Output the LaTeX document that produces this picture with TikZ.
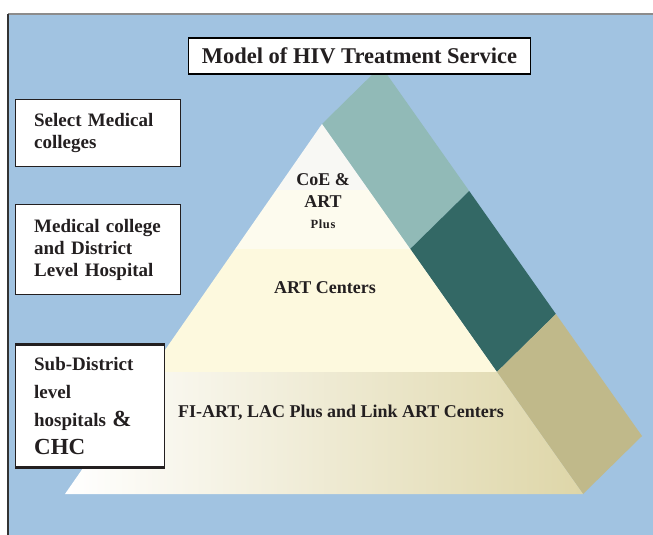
\documentclass[tikz,border=0pt]{standalone}
\usepackage{fontspec}
\setmainfont{Liberation Serif}
\usetikzlibrary{calc}
\definecolor{panelblue}{RGB}{161,195,225}
\definecolor{sideteal}{RGB}{145,186,183}
\definecolor{sidedark}{RGB}{51,104,101}
\definecolor{sidetan}{RGB}{192,185,138}
\definecolor{coetop}{RGB}{248,248,244}
\definecolor{coebot}{RGB}{253,251,238}
\definecolor{artcream}{RGB}{253,249,222}
\definecolor{linktan}{RGB}{222,214,168}
\definecolor{inkgray}{RGB}{35,31,32}
\tikzset{
	levelbox/.style={draw=inkgray, line width=1.3pt, fill=white, anchor=north west, align=left, inner sep=0pt, text=inkgray, font=\bfseries\fontsize{19}{22.5}\selectfont},
	pyrtext/.style={text=inkgray, inner sep=0pt, anchor=base, font=\bfseries\fontsize{18}{22}\selectfont}
}

\begin{document}
\begin{tikzpicture}[x=1pt,y=-1pt]
			%%%%% START %%%%%
			
			\useasboundingbox[fill=white] (0,0) rectangle (653,535);
			\fill[panelblue] (8,14) rectangle (653,535);
			\draw[line width=1.5pt, color=black!45] (8,14) -- (653,14);
			\draw[line width=1.5pt, color=black!80] (8,14) -- (8,535);
			
			\coordinate (apex) at (322,124);
			\coordinate (bl) at (65,494);
			\coordinate (br) at (583,494);
			\coordinate (l0) at (276.2,190);
			\coordinate (r0) at (368.6,190);
			\coordinate (l1) at (235.2,249);
			\coordinate (r1) at (410.2,249);
			\coordinate (l2) at (149.7,372);
			\coordinate (r2) at (496.9,372);
			
			% side face
			\fill[sideteal] (apex) -- (r1) -- ($(r1)+(59,-58)$) -- ($(apex)+(59,-58)$) -- cycle;
			\fill[sidedark] (r1) -- (r2) -- ($(r2)+(59,-58)$) -- ($(r1)+(59,-58)$) -- cycle;
			\fill[sidetan] (r2) -- (br) -- ($(br)+(59,-58)$) -- ($(r2)+(59,-58)$) -- cycle;
			
			% front face
			\fill[coetop] (apex) -- (r0) -- (l0) -- cycle;
			\fill[coebot] (l0) -- (r0) -- (r1) -- (l1) -- cycle;
			\fill[artcream] (l1) -- (r1) -- (r2) -- (l2) -- cycle;
			\shade[left color=white, right color=linktan] (l2) -- (r2) -- (br) -- (bl) -- cycle;
			
			\node[pyrtext] (coe) at (323,185) {CoE \&};
			\node[pyrtext] (art) at (323,207) {ART};
			\node[pyrtext, font=\bfseries\fontsize{12.5}{14}\selectfont] (plus) at (323,228) {P\kern0.6pt l\kern0.6pt u\kern0.6pt s};
			\node[pyrtext] (artc) at (325,293) {ART Centers};
			\node[pyrtext] (link) at (341,417) {FI-ART, LAC Plus and Link ART Centers};
			
			\node[draw=black, line width=1.6pt, fill=white, minimum width=342, minimum height=36, inner sep=0pt, text=inkgray, font=\bfseries\fontsize{22.5}{26}\selectfont] (title) at (359.5,56) {Model of HIV Treatment Service};
			
			\node[levelbox, minimum width=165, minimum height=67, text width=128] (sel) at (15,99) {Select Medical\\colleges};
			\node[levelbox, minimum width=165, minimum height=90, text width=128, font=\bfseries\fontsize{19}{22}\selectfont] (dist) at (15,204) {Medical college\\and District\\Level Hospital};
			\node[levelbox, minimum width=149, minimum height=122, text width=112, font=\bfseries\fontsize{19}{28}\selectfont] (sub) at (15,344) {Sub-District\\level\\hospitals {\fontsize{23}{28}\selectfont\&}\\{\fontsize{23}{28}\selectfont CHC}};
			\draw[line width=3pt, color=inkgray] (sub.north west) -- (sub.north east);
			\draw[line width=3pt, color=inkgray] (sub.south west) -- (sub.south east);
			
			%%%%% END %%%%%
		\end{tikzpicture}
\end{document}
